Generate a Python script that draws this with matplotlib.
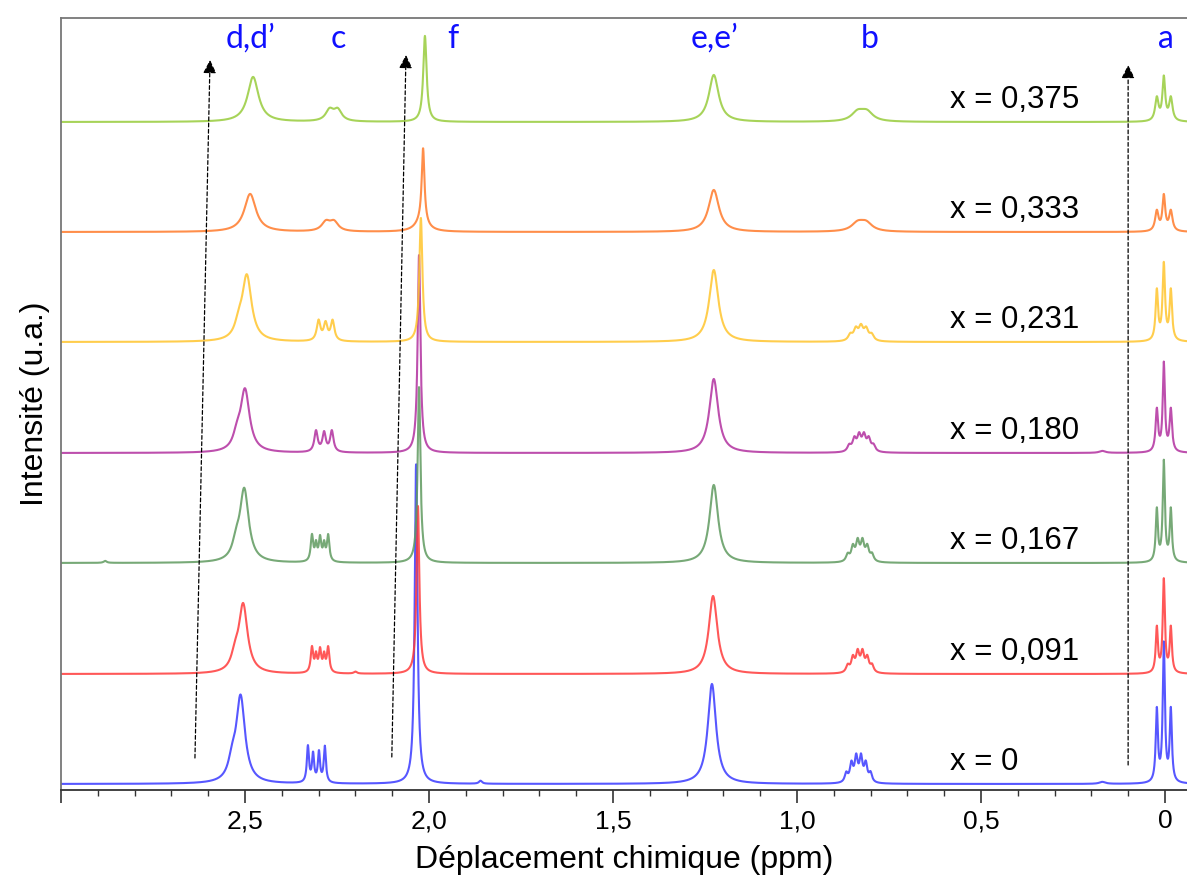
import numpy as np
import matplotlib
matplotlib.use("Agg")
import matplotlib.pyplot as plt
from matplotlib.ticker import MultipleLocator, FuncFormatter

# composition labels, bottom to top
labels = ["x = 0", "x = 0,091", "x = 0,167", "x = 0,180", "x = 0,231", "x = 0,333", "x = 0,375"]
colors = ["#3a3aff", "#ff3b3b", "#5f9a5f", "#b2309f", "#ffc52e", "#ff7a2a", "#98cc3c"]
offsets = [0, 110, 221, 331, 442, 552, 662]

# peak lists: (ppm, height, fwhm)
peaks_0 = [(2.512, 86, 0.029), (2.535, 16, 0.024),
           (2.329, 36, 0.007), (2.315, 28, 0.007), (2.299, 30, 0.007), (2.283, 36, 0.007),
           (2.035, 320, 0.009), (1.231, 100, 0.027),
           (0.866, 9, 0.01), (0.852, 18, 0.01), (0.839, 24, 0.01), (0.826, 24, 0.01),
           (0.813, 18, 0.01), (0.800, 9, 0.01),
           (0.022, 72, 0.007), (0.003, 138, 0.007), (-0.016, 72, 0.007),
           (1.86, 3, 0.01), (0.17, 2, 0.02)]
peaks_091 = [(2.505, 68, 0.029), (2.527, 13, 0.024),
             (2.318, 25, 0.008), (2.307, 16, 0.007), (2.296, 22, 0.008), (2.285, 16, 0.007), (2.274, 25, 0.008),
             (2.030, 168, 0.009), (1.228, 78, 0.028),
             (0.862, 7, 0.011), (0.848, 14, 0.011), (0.835, 19, 0.011), (0.822, 19, 0.011),
             (0.809, 14, 0.011), (0.796, 7, 0.011),
             (0.022, 45, 0.007), (0.003, 93, 0.007), (-0.016, 45, 0.007),
             (2.20, 2, 0.01)]
peaks_167 = [(2.502, 72, 0.029), (2.524, 14, 0.024),
             (2.318, 26, 0.008), (2.307, 16, 0.007), (2.296, 23, 0.008), (2.285, 16, 0.007), (2.274, 26, 0.008),
             (2.027, 176, 0.009), (1.226, 78, 0.028),
             (0.862, 7, 0.011), (0.848, 14, 0.011), (0.835, 19, 0.011), (0.822, 19, 0.011),
             (0.809, 14, 0.011), (0.796, 7, 0.011),
             (0.022, 52, 0.007), (0.003, 100, 0.007), (-0.016, 52, 0.007),
             (2.88, 2, 0.01)]
peaks_180 = [(2.500, 62, 0.03), (2.522, 12, 0.024),
             (2.307, 21, 0.011), (2.285, 19, 0.011), (2.264, 21, 0.011),
             (2.027, 198, 0.009), (1.226, 74, 0.029),
             (0.858, 6, 0.012), (0.844, 12, 0.012), (0.831, 15, 0.012), (0.818, 15, 0.012),
             (0.805, 12, 0.012), (0.792, 6, 0.012),
             (0.022, 42, 0.008), (0.003, 88, 0.007), (-0.016, 42, 0.008),
             (0.17, 2, 0.02)]
peaks_231 = [(2.495, 65, 0.031), (2.517, 12, 0.024),
             (2.300, 20, 0.012), (2.281, 17, 0.012), (2.262, 20, 0.012),
             (2.022, 124, 0.010), (1.226, 72, 0.03),
             (0.855, 6, 0.014), (0.840, 11, 0.014), (0.826, 13, 0.014), (0.812, 11, 0.014),
             (0.797, 6, 0.014),
             (0.022, 50, 0.008), (0.003, 76, 0.008), (-0.016, 50, 0.008)]
peaks_333 = [(2.486, 38, 0.038), (2.280, 9, 0.028), (2.258, 9, 0.028),
             (2.016, 74, 0.009), (2.02, 10, 0.04), (1.226, 42, 0.034),
             (0.835, 8, 0.04), (0.812, 8, 0.04),
             (0.022, 20, 0.011), (0.003, 35, 0.009), (-0.016, 20, 0.011)]
peaks_375 = [(2.478, 45, 0.036), (2.270, 11, 0.026), (2.248, 11, 0.026),
             (2.011, 86, 0.011), (1.226, 47, 0.032),
             (0.835, 9, 0.04), (0.810, 9, 0.04),
             (0.022, 23, 0.011), (0.003, 43, 0.009), (-0.016, 23, 0.011)]
spectra = [peaks_0, peaks_091, peaks_167, peaks_180, peaks_231, peaks_333, peaks_375]

# peak assignments (ppm, label)
assign_pos = [2.486, 2.247, 1.935, 1.223, 0.802, -0.003]
assign_txt = ["d,d\u2019", "c", "f", "e,e\u2019", "b", "a"]

# dashed arrows (ppm, y) start -> end
arrows = [((2.636, 26), (2.595, 724)), ((2.101, 27), (2.0625, 729)), ((0.100, 19), (0.100, 719))]

ppm = np.linspace(3.0, -0.06, 8000)

fig = plt.figure(figsize=(11.87, 8.77), dpi=100)
ax = fig.add_axes([61 / 1187, 87 / 877, 1126 / 1187, 772 / 877])

for pk, col, off, lab in zip(spectra, colors, offsets, labels):
    y = np.zeros_like(ppm)
    for x0, h, w in pk:
        y += h / (1 + ((ppm - x0) / (w / 2)) ** 2)
    ax.plot(ppm, y + off, color=col, lw=1.5, alpha=0.85)
    ax.text(0.585, off + 14, lab, fontsize=22.5, family="Liberation Sans", va="baseline", ha="left")

for x, t in zip(assign_pos, assign_txt):
    ax.text(x, 736, t, fontsize=23, family="Lato", color="#1010ff", ha="center", va="baseline")

for (x1, y1), (x2, y2) in arrows:
    ax.annotate("", xy=(x2, y2), xytext=(x1, y1),
                arrowprops=dict(arrowstyle="-|>", linestyle=(0, (3, 2)), lw=0.9, color="black",
                                mutation_scale=20, shrinkA=0, shrinkB=0))

ax.set_xlim(3.0, -0.06)
ax.set_ylim(-6, 766)
ax.set_yticks([])
ax.xaxis.set_major_locator(MultipleLocator(0.5))
ax.xaxis.set_minor_locator(MultipleLocator(0.1))


def fmt(v, p):
    if abs(v) < 1e-9:
        return "0"
    if v > 2.9:
        return ""
    return f"{v:.1f}".replace(".", ",")


ax.xaxis.set_major_formatter(FuncFormatter(fmt))
ax.tick_params(axis="x", which="major", length=9, width=1.2, color="#333333", labelsize=19, pad=5)
ax.tick_params(axis="x", which="minor", length=4.5, width=1.0, color="#333333")
for lbl in ax.get_xticklabels():
    lbl.set_family("Liberation Sans")

ax.spines["right"].set_visible(False)
ax.spines["top"].set_color("#777777")
ax.spines["left"].set_color("#777777")
ax.spines["bottom"].set_color("#333333")
for s in ["top", "left", "bottom"]:
    ax.spines[s].set_linewidth(1.3)

ax.set_xlabel("Déplacement chimique (ppm)", fontsize=23, family="Liberation Sans", labelpad=8)
ax.set_ylabel("Intensité (u.a.)", fontsize=23, family="Liberation Sans", labelpad=8)

fig.savefig("out.png", dpi=100)
